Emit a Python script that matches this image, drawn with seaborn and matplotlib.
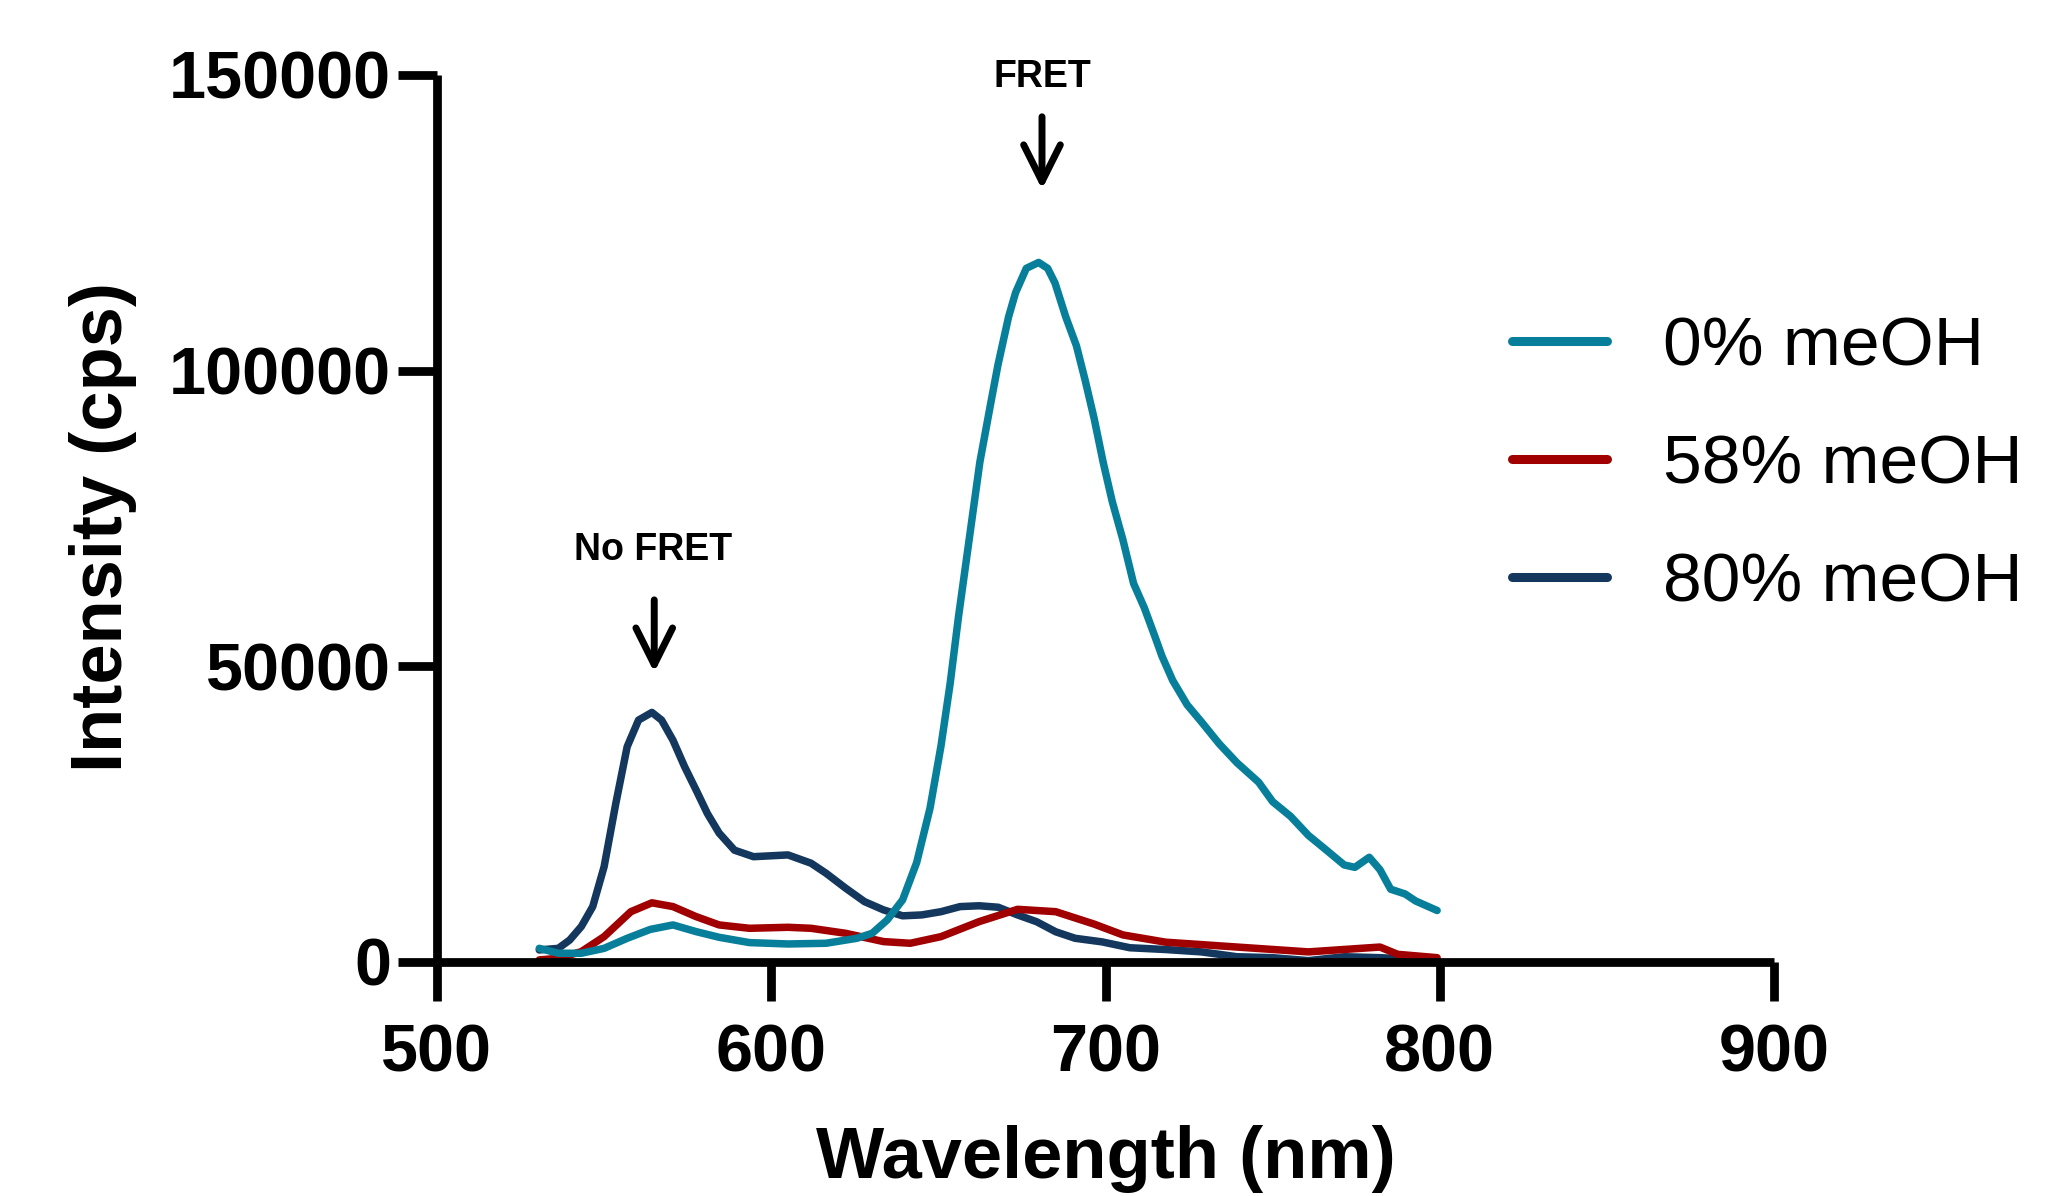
import matplotlib
matplotlib.use("Agg")
import pandas as pd
import matplotlib.pyplot as plt
import seaborn as sns

# 0% meOH (teal)
wl_0 = [530.6, 536.3, 543.2, 550, 556.9, 563.8, 570.6, 577.5, 584.4, 593.5, 605, 616.4,
        625.6, 630.2, 634.7, 639.3, 643.5, 647.5, 650.8, 653.5, 656, 659.2, 662.4, 665.6,
        667.8, 671, 673.1, 676.3, 680, 682.7, 684.9, 688.1, 691.3, 693.9, 696.6, 699.3,
        702, 705.2, 708.4, 711.6, 714.8, 716.9, 720.1, 724.4, 728.7, 734, 739.3, 745.8,
        750, 755.4, 760.7, 766.1, 771.4, 774.6, 778.9, 782.1, 785.3, 789.6, 792.8, 799.2]
int_0 = [2300, 1470, 1470, 2300, 4000, 5500, 6260, 5130, 4170, 3270, 3040, 3160,
         4000, 4850, 7100, 10500, 16800, 26000, 36600, 47000, 58300, 71400, 84500, 94300,
         100900, 109100, 113200, 117300, 118300, 117300, 114800, 109100, 104200, 98400, 91900, 84500,
         77900, 71400, 64000, 59900, 55000, 51700, 47600, 43500, 40600, 36900, 33700, 30400,
         27100, 24600, 21400, 18900, 16400, 16000, 17700, 15600, 12300, 11500, 10300, 8700]

# 58% meOH (red)
wl_58 = [530.6, 536.3, 543.2, 550, 558, 564.3, 570.6, 577.5, 584.4, 593.5, 605, 611.9,
         622.2, 633.6, 641.6, 650.8, 662.2, 673.7, 685.1, 696.6, 705.2, 718, 728.7, 739.3,
         750, 760.7, 771.4, 782.1, 787.4, 799.2]
int_58 = [340, 620, 1750, 4280, 8500, 10000, 9360, 7670, 6260, 5690, 5860, 5690,
          4850, 3440, 3160, 4280, 6820, 8900, 8500, 6400, 4570, 3340, 2930, 2520,
          2110, 1700, 2110, 2520, 1290, 720]

# 80% meOH (navy)
wl_80 = [530.6, 536.3, 539.7, 543.2, 546.6, 550, 553.5, 556.9, 560.3, 564.3, 567.2, 570.6,
         574.1, 577.5, 580.9, 584.4, 589, 594.7, 605, 611.9, 616.4, 622.2, 627.9, 633.6,
         639.3, 645, 650.8, 656.5, 662.2, 667.9, 673.7, 679.4, 685.1, 690.9, 698.9, 707.3,
         718, 728.7, 739.3, 750, 760.7, 771.4, 782.1, 799.2]
int_80 = [2030, 2300, 3700, 6000, 9360, 16100, 26800, 36400, 40900, 42200, 40900, 37500,
          33000, 29100, 25100, 21800, 18900, 17800, 18100, 16700, 15000, 12500, 10200, 8800,
          7800, 7950, 8500, 9360, 9500, 9250, 7950, 6800, 5100, 4000, 3400, 2400,
          2100, 1700, 880, 720, 220, 880, 720, 220]

labels = ["0% meOH", "58% meOH", "80% meOH"]
colors = ["#087F9A", "#A00000", "#14375E"]

sns.set_style("ticks")
plt.rcParams['font.family'] = ['Liberation Sans', 'DejaVu Sans']
plt.rcParams['text.color'] = 'black'
plt.rcParams['axes.labelcolor'] = 'black'
plt.rcParams['axes.edgecolor'] = 'black'
plt.rcParams['xtick.color'] = 'black'
plt.rcParams['ytick.color'] = 'black'

fig = plt.figure(figsize=(20.66, 11.96), dpi=100)
ax = fig.add_axes([0.2115, 0.1957, 0.6472, 0.7416])

series = [(wl_0, int_0), (wl_58, int_58), (wl_80, int_80)]
# draw navy first, teal last (teal sits on top)
for i in [2, 1, 0]:
    wl, val = series[i]
    df = pd.DataFrame({"wl": wl, "val": val})
    sns.lineplot(data=df, x="wl", y="val", ax=ax, color=colors[i], lw=5.4,
                 label=labels[i], sort=True, estimator=None)

ax.set_xlim(500, 900)
ax.set_ylim(0, 150000)
ax.set_xticks([500, 600, 700, 800, 900])
ax.set_yticks([0, 50000, 100000, 150000])
sns.despine(ax=ax)
for s in ["left", "bottom"]:
    ax.spines[s].set_linewidth(6.3)
    ax.spines[s].set_capstyle("butt")
ax.tick_params(axis="both", width=6.3, length=28, color="black", labelsize=48)
ax.tick_params(axis="x", pad=16)
ax.tick_params(axis="y", pad=5)
for lab in ax.get_xticklabels() + ax.get_yticklabels():
    lab.set_fontweight("bold")

ax.set_xlabel("Wavelength (nm)", fontsize=52, fontweight="bold")
ax.set_ylabel("Intensity (cps)", fontsize=52, fontweight="bold")
ax.xaxis.label.set_va("center")
ax.yaxis.label.set_va("center")
ax.xaxis.set_label_coords(0.5, -0.222)
ax.yaxis.set_label_coords(-0.25, 0.49)

# arrows
arrow = dict(arrowstyle="->", lw=5, color="black", mutation_scale=66)
ax.annotate("", xy=(681, 130200), xytext=(681, 143400), arrowprops=arrow, annotation_clip=False)
ax.text(681, 149700, "FRET", ha="center", va="center", fontsize=27, fontweight="bold",
        clip_on=False)
ax.annotate("", xy=(565, 48500), xytext=(565, 61700), arrowprops=arrow)
ax.text(564.6, 69700, "No FRET", ha="center", va="center", fontsize=27, fontweight="bold")

handles, labs = ax.get_legend_handles_labels()
order = [labs.index(l) for l in labels]
ax.get_legend().remove()
leg = fig.legend([handles[i] for i in order], [labs[i] for i in order],
                 loc="center left", bbox_to_anchor=(0.732, 0.611), frameon=False,
                 fontsize=50, handlelength=1.37, handletextpad=0.8,
                 labelspacing=0.78, borderpad=0, borderaxespad=0)
for line in leg.get_lines():
    line.set_linewidth(6.5)

fig.savefig("out.png", dpi=100)
